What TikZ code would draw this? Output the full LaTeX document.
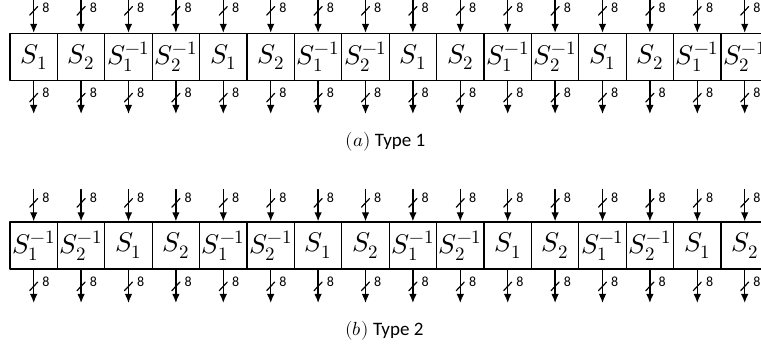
\documentclass[tikz,border=0pt]{standalone}
\usepackage{unicode-math}
\setmainfont{Carlito}
\setmathfont{Latin Modern Math}
\usetikzlibrary{arrows.meta,positioning}
\newcommand\sboxlab[1]{\ifcase#1 $S_1$\or $S_2$\or $S_1^{-1}$\or $S_2^{-1}$\fi}
\begin{document}
\begin{tikzpicture}[x=1pt,y=-1pt,line cap=round,line join=round,
  >={Latex[length=9pt,width=7.5pt]},
  sbox/.style={draw,line width=1.3pt,minimum width=47.4pt,minimum height=47pt,
    inner sep=0pt,font=\fontsize{27}{29}\selectfont},
  bus/.style={line width=1.3pt,->},
  tick/.style={line width=1.2pt},
  wlab/.style={anchor=west,inner sep=0pt,font=\fontsize{14}{15}\selectfont},
  captext/.style={font=\fontsize{19}{21}\selectfont}]
\useasboundingbox (0,0) rectangle (761,347);

% (a) Type 1
\foreach \i in {1,...,16}{
  \pgfmathtruncatemacro\k{mod(\i-1,4)}
  \pgfmathsetmacro\xc{33.7+47.4*(\i-1)}
  \node[sbox] (a\i) at (\xc,57) {\sboxlab{\k}};
  \coordinate (ain\i) at (\xc,0);
  \coordinate (aout\i) at (\xc,114);
  \draw[bus] (ain\i) -- coordinate[pos=0.33] (at\i) (a\i.north);
  \draw[bus] (a\i.south) -- coordinate[pos=0.5] (ab\i) (aout\i);
  \draw[tick] (at\i) ++(-4,4.3) -- ++(8,-8.6);
  \draw[tick] (ab\i) ++(-4,4.3) -- ++(8,-8.6);
  \path (at\i) ++(8.5,-3.5) node[wlab] (atl\i) {8};
  \path (ab\i) ++(8.5,-5) node[wlab] (abl\i) {8};
}
\node[captext] (capa) at (385.5,142) {$(a)$ Type 1};

% (b) Type 2
\foreach \i in {1,...,16}{
  \pgfmathtruncatemacro\k{mod(\i+1,4)}
  \pgfmathsetmacro\xc{33.7+47.4*(\i-1)}
  \node[sbox] (b\i) at (\xc,245.5) {\sboxlab{\k}};
  \coordinate (bin\i) at (\xc,189.5);
  \coordinate (bout\i) at (\xc,303);
  \draw[bus] (bin\i) -- coordinate[pos=0.42] (bt\i) (b\i.north);
  \draw[bus] (b\i.south) -- coordinate[pos=0.5] (bb\i) (bout\i);
  \draw[tick] (bt\i) ++(-4,4.3) -- ++(8,-8.6);
  \draw[tick] (bb\i) ++(-4,4.3) -- ++(8,-8.6);
  \path (bt\i) ++(8.5,-5) node[wlab] (btl\i) {8};
  \path (bb\i) ++(8.5,-5) node[wlab] (bbl\i) {8};
}
\node[captext] (capb) at (384.5,331) {$(b)$ Type 2};
\end{tikzpicture}
\end{document}
